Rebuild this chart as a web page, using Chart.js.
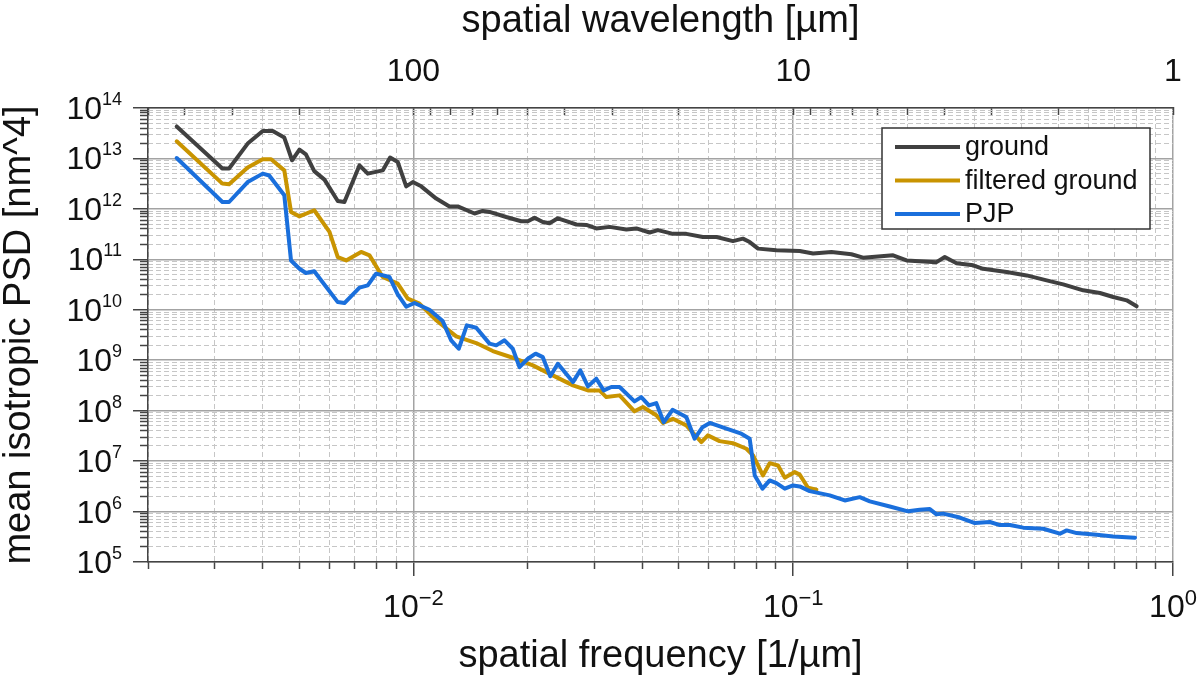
<!DOCTYPE html>
<html>
<head>
<meta charset="utf-8">
<title>mean isotropic PSD</title>
<script src="https://cdn.jsdelivr.net/npm/chart.js@4.4.1/dist/chart.umd.min.js"></script>
<style>
  html, body { margin: 0; padding: 0; background: #fff; }
  #wrap { width: 1200px; height: 684px; position: relative; }
</style>
</head>
<body>
<div id="wrap"><canvas id="psdChart"></canvas></div>
<script>
// spatial frequency [1/µm] and PSD [nm^4]
const groundFreq = [0.00238, 0.00314, 0.00327, 0.00366, 0.00401, 0.00426, 0.00457, 0.00479, 0.00501, 0.00521,
  0.00548, 0.00583, 0.00632, 0.00658, 0.00721, 0.00758, 0.0083, 0.00868, 0.00909, 0.00957,
  0.00996, 0.01048, 0.01148, 0.01244, 0.01308, 0.01448, 0.01522, 0.01586, 0.01755, 0.01922,
  0.02001, 0.02084, 0.02191, 0.02282, 0.024, 0.02526, 0.02685, 0.02852, 0.0303, 0.03285,
  0.03636, 0.03863, 0.04187, 0.04403, 0.04824, 0.0523, 0.0578, 0.0628, 0.0694, 0.0737,
  0.0768, 0.0808, 0.0903, 0.104, 0.1128, 0.1261, 0.1423, 0.1527, 0.1832, 0.1988,
  0.2384, 0.2507, 0.2692, 0.2977, 0.3163, 0.3647, 0.4118, 0.4648, 0.5139, 0.5801,
  0.6421, 0.696, 0.7551, 0.8024];
const groundPsd = [4.3e13, 6.3e12, 6.3e12, 1.97e13, 3.5e13, 3.5e13, 2.59e13, 9.2e12, 1.5e13, 1.21e13,
  5.6e12, 3.8e12, 1.43e12, 1.37e12, 7.3e12, 5.0e12, 5.8e12, 1.04e13, 8.5e12, 2.8e12,
  3.4e12, 2.8e12, 1.6e12, 1.12e12, 1.12e12, 8.1e11, 9.1e11, 8.7e11, 6.9e11, 5.7e11,
  5.7e11, 6.7e11, 5.5e11, 5.2e11, 6.5e11, 5.7e11, 4.9e11, 4.8e11, 4.1e11, 4.4e11,
  3.9e11, 4.1e11, 3.4e11, 3.8e11, 3.2e11, 3.2e11, 2.77e11, 2.77e11, 2.3e11, 2.57e11,
  2.2e11, 1.63e11, 1.51e11, 1.46e11, 1.3e11, 1.4e11, 1.26e11, 1.08e11, 1.2e11, 9.5e10,
  8.8e10, 1.11e11, 8.4e10, 7.6e10, 6.5e10, 5.6e10, 4.8e10, 3.83e10, 3.19e10, 2.43e10,
  2.15e10, 1.79e10, 1.54e10, 1.17e10];

const filteredFreq = [0.00238, 0.00314, 0.00327, 0.00366, 0.00401, 0.00422, 0.00457, 0.00476, 0.00501, 0.00548,
  0.00601, 0.00632, 0.00665, 0.00728, 0.00766, 0.0083, 0.00909, 0.00966, 0.01037, 0.01148,
  0.01296, 0.01463, 0.01618, 0.01826, 0.02063, 0.02328, 0.0263, 0.0288, 0.0309, 0.0322,
  0.0349, 0.0382, 0.0402, 0.0436, 0.0454, 0.0482, 0.0523, 0.0573, 0.0596, 0.064,
  0.0694, 0.0753, 0.0784, 0.0832, 0.0867, 0.0912, 0.095, 0.1009, 0.104, 0.1094, 0.1151];
const filteredPsd = [2.19e13, 3.17e12, 3.07e12, 6.6e12, 9.6e12, 9.6e12, 5.8e12, 8.7e11, 7.1e11, 9.4e11,
  3.5e11, 1.11e11, 9.5e10, 1.4e11, 1.2e11, 4.46e10, 3.3e10, 1.66e10, 1.32e10, 6.2e9,
  2.97e9, 2.19e9, 1.52e9, 1.12e9, 7.9e8, 5.0e8, 3.17e8, 2.52e8, 2.52e8, 1.86e8,
  2.01e8, 9.7e7, 1.18e8, 8.1e7, 5.7e7, 6.9e7, 5.1e7, 2.38e7, 3.24e7, 2.49e7,
  2.27e7, 1.76e7, 1.3e7, 5.2e6, 9.1e6, 8.2e6, 4.7e6, 6.05e6, 5.4e6, 2.97e6, 2.71e6];

const pjpFreq = [0.00238, 0.00314, 0.00327, 0.00366, 0.00401, 0.00417, 0.00457, 0.00476, 0.00501, 0.00521,
  0.00548, 0.00632, 0.00658, 0.00721, 0.00758, 0.00797, 0.00865, 0.00909, 0.00957, 0.01006,
  0.01102, 0.01194, 0.01257, 0.01316, 0.01382, 0.01463, 0.01586, 0.01652, 0.01737, 0.01826,
  0.01902, 0.02001, 0.02097, 0.02191, 0.02292, 0.024, 0.0263, 0.0275, 0.0288, 0.0303,
  0.0317, 0.0332, 0.0349, 0.0382, 0.0398, 0.0417, 0.0436, 0.0456, 0.0481, 0.0523,
  0.055, 0.0577, 0.0603, 0.0667, 0.073, 0.0768, 0.0792, 0.083, 0.0867, 0.0903,
  0.095, 0.0999, 0.104, 0.1105, 0.1248, 0.1367, 0.1497, 0.1591, 0.1796, 0.2007,
  0.2154, 0.2289, 0.2384, 0.2481, 0.2746, 0.3008, 0.3295, 0.3501, 0.372, 0.4033,
  0.4552, 0.5038, 0.5248, 0.5574, 0.6295, 0.696, 0.7943];
const pjpPsd = [1.02e13, 1.37e12, 1.37e12, 3.4e12, 5.0e12, 4.6e12, 1.86e12, 9.5e10, 6.5e10, 5.35e10,
  5.8e10, 1.42e10, 1.36e10, 2.75e10, 3.05e10, 5.2e10, 4.46e10, 2.02e10, 1.15e10, 1.36e10,
  1.0e10, 5.97e9, 2.48e9, 1.69e9, 4.9e9, 4.4e9, 2.13e9, 1.97e9, 2.48e9, 1.69e9,
  7.3e8, 1.07e9, 1.35e9, 1.15e9, 4.8e8, 8.5e8, 3.69e8, 6.3e8, 3.03e8, 4.3e8,
  2.52e8, 2.94e8, 2.94e8, 1.53e8, 1.86e8, 1.27e8, 1.41e8, 5.9e7, 1.04e8, 7.5e7,
  2.78e7, 4.7e7, 5.7e7, 4.4e7, 3.5e7, 2.78e7, 5.2e6, 2.84e6, 4.14e6, 3.66e6,
  2.84e6, 3.3e6, 3.15e6, 2.54e6, 2.09e6, 1.66e6, 1.93e6, 1.59e6, 1.26e6, 1.01e6,
  1.09e6, 1.12e6, 8.8e5, 9.1e5, 7.6e5, 5.9e5, 6.2e5, 5.4e5, 5.4e5, 4.8e5,
  4.57e5, 3.64e5, 4.23e5, 3.74e5, 3.48e5, 3.21e5, 3.03e5];

const seriesLabels = ["ground", "filtered ground", "PJP"];
const seriesColors = ["#404040", "#c99400", "#1a6fdc"];

// tick labels
const yExponents = [5, 6, 7, 8, 9, 10, 11, 12, 13, 14];
const xExponents = [-2, -1, 0];
const wavelengthLabels = [100, 10, 1];

const FONT = "'Liberation Sans', Arial, sans-serif";
const X_MIN = 0.002, X_MAX = 1, Y_MIN = 1e5, Y_MAX = 1e14;

// k*10^n values inside [lo, hi]; major = only k==1, else only k=2..9
function decadeTicks(lo, hi, major) {
  const out = [];
  for (let e = Math.floor(Math.log10(lo)); e <= Math.ceil(Math.log10(hi)); e++) {
    for (let k = 1; k <= 9; k++) {
      const v = parseFloat((k * Math.pow(10, e)).toPrecision(6));
      if (v < lo * 0.999 || v > hi * 1.001) continue;
      if ((k === 1) === major) out.push(v);
    }
  }
  return out;
}

// top axis: wavelength 1..500 µm placed at frequency 1/wavelength
const wavelengthTicks = [];
for (let e = 0; e <= 2; e++) {
  for (let k = 1; k <= 9; k++) {
    const w = k * Math.pow(10, e);
    if (w <= 500) wavelengthTicks.push(1 / w);
  }
}

function toPoints(xs, ys) {
  return xs.map((x, i) => ({ x: x, y: ys[i] }));
}

function setTicks(values) {
  return function(scale) {
    scale.ticks = values.map(v => ({ value: v }));
  };
}

// "10" with a raised exponent, as in the original figure
const powerLabels = {
  id: "powerLabels",
  afterDraw(chart) {
    const ctx = chart.ctx;
    const area = chart.chartArea;
    const ys = chart.scales.y, xs = chart.scales.x;
    ctx.save();
    ctx.fillStyle = "#111";
    ctx.textBaseline = "alphabetic";
    ctx.textAlign = "left";

    yExponents.forEach(e => {
      const py = ys.getPixelForValue(Math.pow(10, e));
      const sup = String(e);
      ctx.font = "18px " + FONT;
      const sw = ctx.measureText(sup).width;
      ctx.font = "32px " + FONT;
      const bw = ctx.measureText("10").width;
      const right = area.left - 26;
      ctx.fillText("10", right - sw - bw, py + 11);
      ctx.font = "18px " + FONT;
      ctx.fillText(sup, right - sw, py - 3);
    });

    xExponents.forEach(e => {
      const px = xs.getPixelForValue(Math.pow(10, e));
      const sup = (e < 0 ? "\u2212" : "") + Math.abs(e);
      ctx.font = "22px " + FONT;
      const sw = ctx.measureText(sup).width;
      ctx.font = "32px " + FONT;
      const bw = ctx.measureText("10").width;
      const left = px - (bw + sw) / 2;
      ctx.fillText("10", left, area.bottom + 55);
      ctx.font = "22px " + FONT;
      ctx.fillText(sup, left + bw, area.bottom + 43);
    });
    ctx.restore();
  }
};

// boxed legend in the upper right of the plot
const boxLegend = {
  id: "boxLegend",
  afterDraw(chart) {
    const ctx = chart.ctx, area = chart.chartArea;
    const x0 = area.right - 291, y0 = area.top + 20, w = 268, h = 101;
    ctx.save();
    ctx.fillStyle = "#fff";
    ctx.fillRect(x0, y0, w, h);
    ctx.strokeStyle = "#333";
    ctx.lineWidth = 1.5;
    ctx.strokeRect(x0, y0, w, h);
    ctx.font = "27px " + FONT;
    ctx.textBaseline = "middle";
    ctx.textAlign = "left";
    chart.data.datasets.forEach((ds, i) => {
      const cy = y0 + 19 + i * 33.5;
      ctx.strokeStyle = ds.borderColor;
      ctx.lineWidth = 4;
      ctx.beginPath();
      ctx.moveTo(x0 + 13, cy);
      ctx.lineTo(x0 + 78, cy);
      ctx.stroke();
      ctx.fillStyle = "#111";
      ctx.fillText(ds.label, x0 + 83, cy + 1);
    });
    ctx.restore();
  }
};

const seriesFreq = [groundFreq, filteredFreq, pjpFreq];
const seriesPsd = [groundPsd, filteredPsd, pjpPsd];

const ctx = document.getElementById("psdChart").getContext("2d");

new Chart(ctx, {
  type: "line",
  data: {
    datasets: seriesLabels.map((label, i) => ({
      label: label,
      data: toPoints(seriesFreq[i], seriesPsd[i]),
      borderColor: seriesColors[i],
      backgroundColor: seriesColors[i],
      borderWidth: 4,
      borderJoinStyle: "round",
      borderCapStyle: "round",
      pointRadius: 0,
      fill: false,
      tension: 0,
      order: 2 - i, // PJP on top
      xAxisID: "x",
      yAxisID: "y"
    }))
  },
  options: {
    responsive: true,
    maintainAspectRatio: false,
    animation: false,
    layout: { padding: { left: 0, top: 0, right: 27, bottom: 0 } },
    plugins: {
      legend: { display: false },
      tooltip: { enabled: false }
    },
    scales: {
      x: {
        type: "logarithmic",
        position: "bottom",
        weight: 1,
        min: X_MIN,
        max: X_MAX,
        afterBuildTicks: setTicks(decadeTicks(X_MIN, X_MAX, true)),
        afterFit: s => { s.height = 122; },
        ticks: { display: false, autoSkip: false },
        grid: { color: "#a3a3a3", lineWidth: 1.5, tickLength: 14, tickColor: "#444", tickWidth: 1.5 },
        border: { color: "#444", width: 1.5 },
        title: {
          display: true,
          text: "spatial frequency [1/µm]",
          color: "#111",
          font: { family: FONT, size: 38, lineHeight: 1 },
          padding: { top: 0, bottom: 8 }
        }
      },
      xMinor: {
        type: "logarithmic",
        position: "bottom",
        weight: 0,
        min: X_MIN,
        max: X_MAX,
        afterBuildTicks: setTicks(decadeTicks(X_MIN, X_MAX, false)),
        afterFit: s => { s.height = 0; },
        ticks: { display: false, autoSkip: false },
        grid: { color: "#c6c6c6", lineWidth: 1, tickLength: 7, tickColor: "#444", tickWidth: 1.5 },
        border: { display: false, dash: [5, 3] }
      },
      x2: {
        type: "logarithmic",
        position: "top",
        min: X_MIN,
        max: X_MAX,
        afterBuildTicks: setTicks(wavelengthTicks),
        afterFit: s => { s.height = 108; },
        ticks: {
          autoSkip: false,
          maxRotation: 0,
          minRotation: 0,
          padding: 27,
          color: "#111",
          font: { family: FONT, size: 32, lineHeight: 1 },
          callback: v => wavelengthLabels.includes(Math.round(1 / v)) ? String(Math.round(1 / v)) : ""
        },
        grid: { drawOnChartArea: false, tickLength: -7, tickColor: "#444", tickWidth: 1.5 },
        border: { color: "#444", width: 1.5 },
        title: {
          display: true,
          text: "spatial wavelength [µm]",
          color: "#111",
          font: { family: FONT, size: 38, lineHeight: 1 },
          padding: { top: 3, bottom: 0 }
        }
      },
      y: {
        type: "logarithmic",
        position: "left",
        weight: 1,
        min: Y_MIN,
        max: Y_MAX,
        afterBuildTicks: setTicks(decadeTicks(Y_MIN, Y_MAX, true)),
        afterFit: s => { s.width = 148; },
        ticks: { display: false, autoSkip: false },
        grid: { color: "#a3a3a3", lineWidth: 1.5, tickLength: 15, tickColor: "#444", tickWidth: 1.5 },
        border: { color: "#444", width: 1.5 },
        title: {
          display: true,
          text: "mean isotropic PSD [nm^4]",
          color: "#111",
          font: { family: FONT, size: 38, lineHeight: 1 },
          padding: { top: 1, bottom: 0 }
        }
      },
      yMinor: {
        type: "logarithmic",
        position: "left",
        weight: 0,
        min: Y_MIN,
        max: Y_MAX,
        afterBuildTicks: setTicks(decadeTicks(Y_MIN, Y_MAX, false)),
        afterFit: s => { s.width = 0; },
        ticks: { display: false, autoSkip: false },
        grid: { color: "#c6c6c6", lineWidth: 1, tickLength: 8, tickColor: "#444", tickWidth: 1.5 },
        border: { display: false, dash: [5, 3] }
      }
    }
  },
  plugins: [powerLabels, boxLegend]
});
</script>
</body>
</html>
